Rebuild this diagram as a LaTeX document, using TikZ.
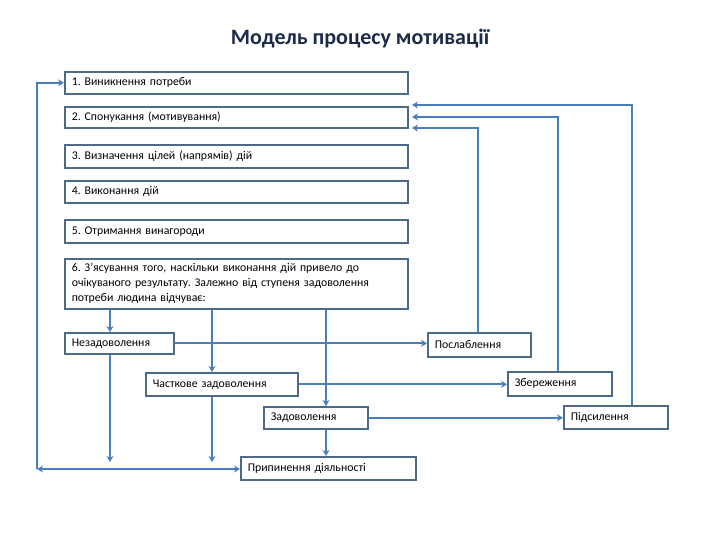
\documentclass[tikz,border=0pt]{standalone}
\usepackage{fontspec}
\setmainfont{Carlito}
\usetikzlibrary{arrows.meta,calc}
\definecolor{boxc}{HTML}{4D6A89}
\definecolor{conc}{HTML}{4A7EBB}
\definecolor{titc}{HTML}{1C2B4A}
\frenchspacing
\tikzset{
  bx/.style={draw=boxc, line width=1.6pt, fill=white, inner xsep=7pt, inner ysep=2pt,
             font=\fontsize{11.8}{15}\selectfont, align=left, anchor=north west},
  con/.style={draw=conc, line width=2pt},
  arr/.style={con, -{Stealth[length=6pt,width=7pt]}},
  dar/.style={con, {Stealth[length=6pt,width=7pt]}-{Stealth[length=6pt,width=7pt]}},
}
\begin{document}
\begin{tikzpicture}[x=1pt,y=-1pt]
\useasboundingbox (0,0) rectangle (720,540);
\node[font=\fontsize{22}{24}\selectfont\bfseries, text=titc] (title) at (360,39) {Модель процесу мотивації};

\node[bx, minimum height=22pt, text width=329pt] (b1) at (64,71) {1. Виникнення потреби};
\node[bx, minimum height=21pt, text width=329pt] (b2) at (64,106) {2. Спонукання (мотивування)};
\node[bx, minimum height=23pt, text width=329pt] (b3) at (64,144) {3. Визначення цілей (напрямів) дій};
\node[bx, minimum height=22pt, text width=329pt] (b4) at (64,180) {4. Виконання дій};
\node[bx, minimum height=23pt, text width=329pt] (b5) at (64,219) {5. Отримання винагороди};
\node[bx, minimum height=50pt, text width=329pt, inner ysep=3pt] (b6) at (64,258)
  {6. З’ясування того, наскільки виконання дій привело до\\очікуваного результату. Залежно від ступеня задоволення\\потреби людина відчуває:};

\node[bx, minimum height=21pt, text width=95pt] (nz) at (64,332) {Незадоволення};
\node[bx, minimum height=23pt, text width=138pt] (ch) at (145,372) {Часткове задоволення};
\node[bx, minimum height=22pt, text width=90pt] (zd) at (263,406) {Задоволення};
\node[bx, minimum height=23pt, text width=161pt] (pr) at (240,456) {Припинення діяльності};
\node[bx, minimum height=24pt, text width=89pt] (ps) at (427,332) {Послаблення};
\node[bx, minimum height=24pt, text width=90pt] (zb) at (507,371) {Збереження};
\node[bx, minimum height=23pt, text width=90pt] (pd) at (563,405) {Підсилення};

\coordinate (L) at (37,469);
\coordinate (c1) at (110,0);
\coordinate (c2) at (212,0);
\coordinate (c3) at (326,0);
\coordinate (f1) at (478,0);
\coordinate (f2) at (558,0);
\coordinate (f3) at (632,0);
\coordinate (r1) at (412,105);
\coordinate (r2) at (412,117);
\coordinate (r3) at (412,128);

% loop back to 1
\draw[arr] (L) |- (b1.west);
\draw[dar] (L) -- (L -| pr.west);

% from 6 down
\draw[arr] (b6.south -| c1) -- (nz.north -| c1);
\draw[arr] (b6.south -| c2) -- (ch.north -| c2);
\draw[arr] (b6.south -| c3) -- (zd.north -| c3);

\draw[arr, shorten >=7pt] (nz.south -| c1) -- (L -| c1);
\draw[arr, shorten >=7pt] (ch.south -| c2) -- (L -| c2);
\draw[arr] (zd.south -| c3) -- (pr.north -| c3);

% to right boxes
\draw[arr] (nz.east) -- (nz.east -| ps.west);
\draw[arr] (ch.east) -- (ch.east -| zb.west);
\draw[arr] (zd.east) -- (zd.east -| pd.west);

% feedback to 2
\draw[arr] (ps.north -| f1) |- (r3);
\draw[arr] (zb.north -| f2) |- (r2);
\draw[arr] (pd.north -| f3) |- (r1);
\end{tikzpicture}
\end{document}
